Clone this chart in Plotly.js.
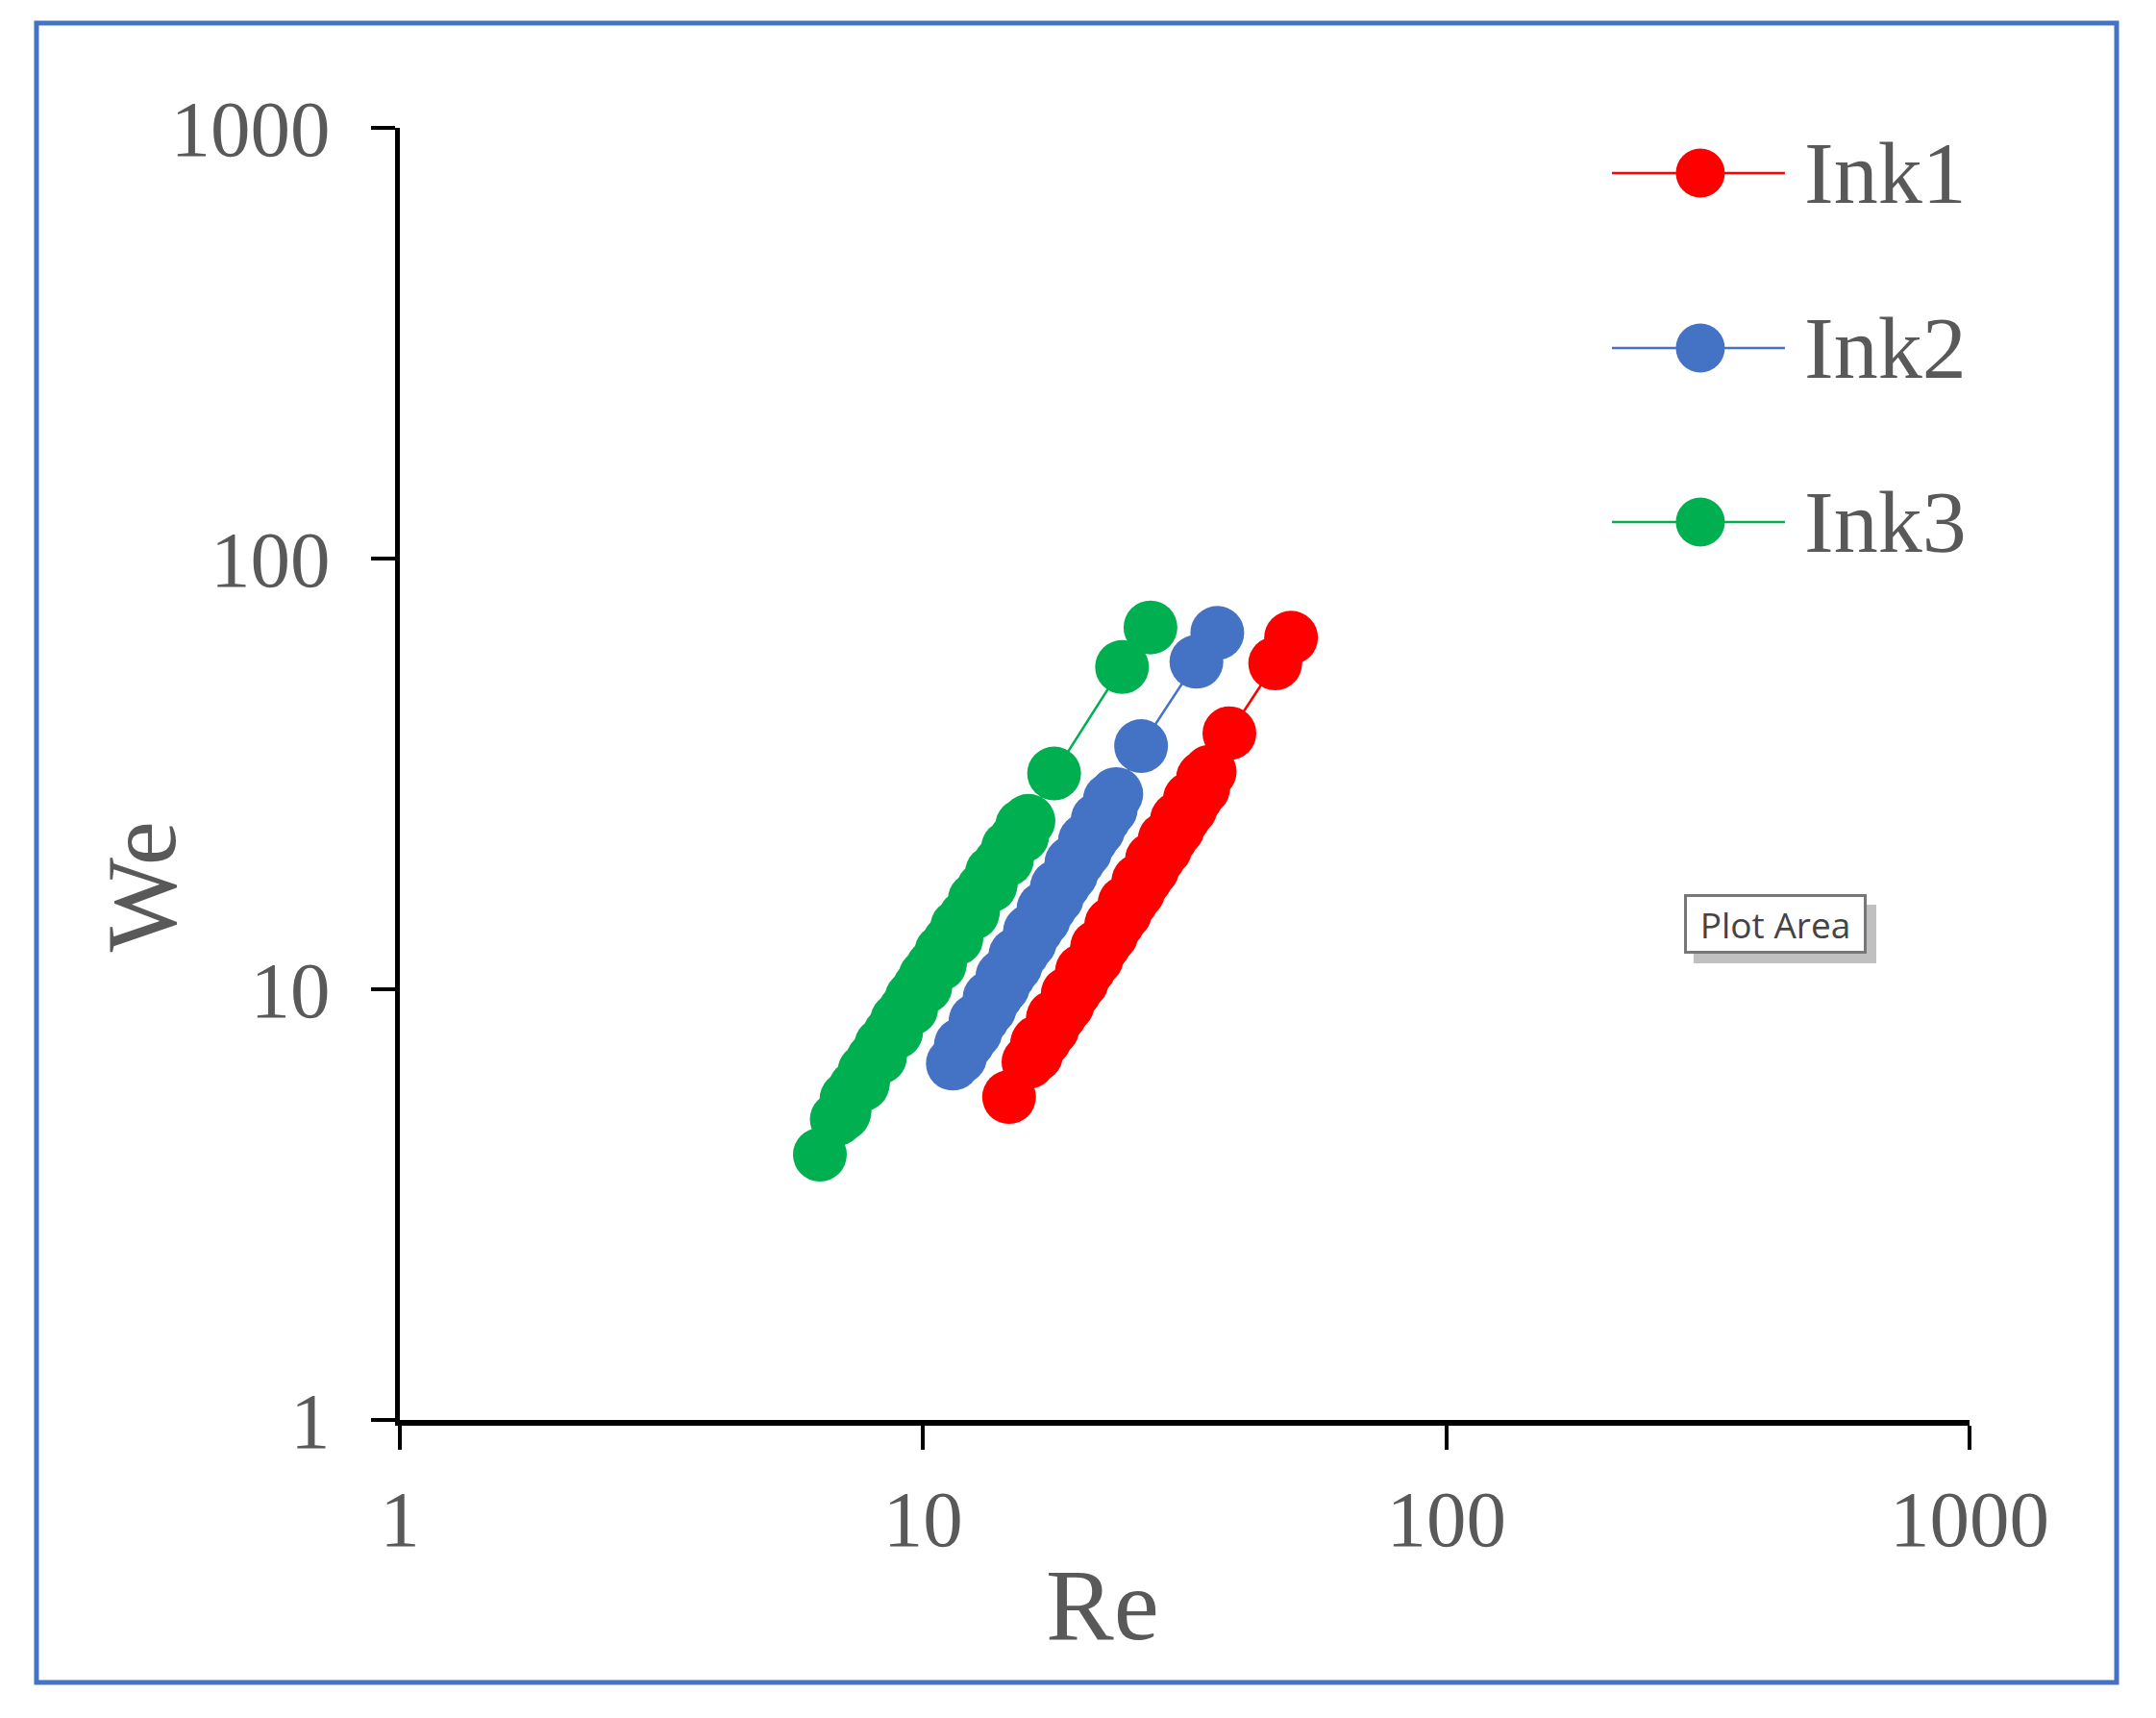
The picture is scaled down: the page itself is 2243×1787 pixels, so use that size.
<!DOCTYPE html>
<html>
<head>
<meta charset="utf-8">
<script src="https://cdn.plot.ly/plotly-3.0.1.min.js"></script>
<style>html,body{margin:0;padding:0;background:#fff;}#chart{width:2243px;height:1787px;}</style>
</head>
<body>
<div id="chart"></div>
<script>
// ---- data ----
var seriesNames = ["Ink1", "Ink2", "Ink3"];
var seriesColors = ["#FF0000", "#4472C4", "#00B050"];

var ink1Re = [14.6, 15.9, 16.44, 16.5, 16.55, 17.1, 17.66, 17.7, 17.73, 18.3, 18.88, 18.9, 18.91, 19.5, 20.10, 20.1, 20.14, 20.8, 21.47, 21.5, 21.52, 22.2, 22.89, 22.9, 22.90, 23.6, 24.31, 24.3, 24.28, 25.0, 25.78, 25.8, 25.81, 26.6, 27.41, 27.4, 27.38, 28.2, 29.03, 29.0, 28.96, 29.8, 30.65, 30.6, 30.58, 31.5, 32.43, 32.4, 32.36, 33.3, 34.31, 34.3, 34.28, 35.3, 38.5, 47.1, 50.5];
var ink1We = [5.62, 6.78, 7.03, 7.43, 7.54, 7.65, 8.08, 8.52, 8.62, 8.73, 9.19, 9.67, 9.78, 9.87, 10.38, 10.89, 11.05, 11.19, 11.79, 12.42, 12.56, 12.7, 13.35, 14.03, 14.17, 14.3, 15.01, 15.75, 15.87, 15.98, 16.82, 17.69, 17.87, 17.99, 18.94, 19.88, 20.04, 20.2, 21.18, 22.2, 22.34, 22.48, 23.53, 24.63, 24.84, 25.03, 26.26, 27.5, 27.7, 27.9, 29.29, 30.13, 30.99, 32.0, 39.3, 57.1, 65.5];

var ink2Re = [11.4, 11.77, 11.8, 11.82, 12.2, 12.59, 12.6, 12.61, 13.0, 13.40, 13.4, 13.40, 13.8, 14.21, 14.2, 14.18, 14.6, 15.02, 15.0, 15.02, 15.5, 15.99, 16.0, 16.01, 16.5, 17.00, 17.0, 16.99, 17.5, 18.02, 18.0, 18.03, 18.6, 19.18, 19.2, 19.21, 19.8, 20.40, 20.4, 20.39, 21.0, 21.62, 21.6, 21.57, 22.2, 22.84, 22.8, 22.75, 23.4, 26.1, 33.3, 36.5];
var ink2We = [6.72, 6.96, 7.34, 7.45, 7.55, 7.95, 8.38, 8.47, 8.57, 9.01, 9.47, 9.56, 9.66, 10.13, 10.64, 10.72, 10.8, 11.33, 11.86, 12.03, 12.17, 12.83, 13.5, 13.65, 13.8, 14.51, 15.24, 15.39, 15.52, 16.29, 17.08, 17.32, 17.53, 18.47, 19.44, 19.66, 19.86, 20.89, 20.97, 22.16, 22.34, 23.46, 24.6, 24.8, 24.97, 26.18, 27.4, 27.59, 28.4, 36.7, 57.6, 67.2];

var ink3Re = [6.35, 6.84, 7.05, 7.08, 7.14, 7.42, 7.66, 7.68, 7.73, 8.02, 8.27, 8.27, 8.32, 8.63, 8.88, 8.88, 8.92, 9.24, 9.49, 9.47, 9.51, 9.83, 10.10, 10.08, 10.10, 10.43, 10.76, 10.78, 10.84, 11.22, 11.57, 11.58, 11.62, 12.03, 12.43, 12.47, 12.56, 13.02, 13.45, 13.48, 13.54, 14.03, 14.46, 14.47, 14.53, 15.02, 15.47, 15.46, 15.46, 15.9, 17.8, 24.0, 27.2];
var ink3We = [4.13, 4.99, 5.14, 5.22, 5.57, 5.92, 6.01, 6.1, 6.47, 6.88, 6.95, 7.02, 7.44, 7.88, 7.95, 8.02, 8.49, 8.95, 9.01, 9.06, 9.56, 10.1, 10.13, 10.2, 10.72, 11.3, 11.42, 11.6, 12.25, 12.9, 13.1, 13.3, 13.99, 14.7, 15.01, 15.3, 16.19, 17.1, 17.41, 17.7, 18.68, 19.6, 19.98, 20.3, 21.33, 22.3, 22.68, 23.0, 23.99, 24.6, 31.7, 56.0, 69.2];

var tickValues = [1, 10, 100, 1000];
var tickLabels = ["1", "10", "100", "1000"];
var xTitle = "Re";
var yTitle = "We";
var tooltipText = "Plot Area";

// ---- chart ----
var serif = "Liberation Serif, Times New Roman, serif";
var gray = "#595959";
var xs = [ink1Re, ink2Re, ink3Re];
var ys = [ink1We, ink2We, ink3We];

var traces = seriesNames.map(function (n, i) {
  return {
    type: "scatter",
    mode: "lines+markers",
    name: n,
    x: xs[i],
    y: ys[i],
    line: {color: seriesColors[i], width: 2.5},
    marker: {color: seriesColors[i], size: 56, line: {width: 0}},
    hoverinfo: "x+y+name"
  };
});

var legendY = [0.9650, 0.8296, 0.6949];
var shapes = [
  // outer blue frame
  {type: "rect", xref: "paper", yref: "paper", x0: -0.2315, x1: 1.0937, y0: -0.2031, y1: 1.0811,
   line: {color: "#4472C4", width: 5}, fillcolor: "rgba(0,0,0,0)", layer: "below"},
  // tooltip shadow
  {type: "rect", xref: "paper", yref: "paper", x0: 0.8242, x1: 0.9406, y0: 0.3534, y1: 0.3988,
   line: {width: 0}, fillcolor: "rgba(150,150,150,0.6)", layer: "above"}
];
var annotations = [];
seriesNames.forEach(function (n, i) {
  shapes.push({type: "line", xref: "paper", yref: "paper", x0: 0.7722, x1: 0.8824, y0: legendY[i], y1: legendY[i],
    line: {color: seriesColors[i], width: 2.5}, layer: "above"});
  shapes.push({type: "circle", xref: "paper", yref: "paper", xsizemode: "pixel", ysizemode: "pixel",
    xanchor: 0.8285, yanchor: legendY[i], x0: -25.5, x1: 25.5, y0: -25.5, y1: 25.5,
    line: {width: 0}, fillcolor: seriesColors[i], layer: "above"});
  annotations.push({xref: "paper", yref: "paper", x: 0.8935, y: legendY[i], xanchor: "left", yanchor: "middle",
    text: n, showarrow: false, font: {family: serif, size: 92, color: gray}});
});
annotations.push({xref: "paper", yref: "paper", x: 0.4476, y: -0.1429, xanchor: "center", yanchor: "middle",
  text: xTitle, showarrow: false, font: {family: serif, size: 106, color: gray}});
annotations.push({xref: "paper", yref: "paper", x: -0.1653, y: 0.4129, xanchor: "center", yanchor: "middle",
  text: yTitle, textangle: -90, showarrow: false, font: {family: serif, size: 104, color: gray}});
annotations.push({xref: "paper", yref: "paper", x: 0.8763, y: 0.3836, xanchor: "center", yanchor: "middle",
  text: tooltipText, showarrow: false, font: {family: "Open Sans, Liberation Sans, sans-serif", size: 37, color: "#444"},
  bgcolor: "#ffffff", bordercolor: "#777777", borderwidth: 3, borderpad: 6, width: 172, height: 44});

var axisCommon = {
  type: "log",
  range: [0, 3],
  tickmode: "array",
  tickvals: tickValues,
  ticktext: tickLabels,
  ticks: "outside",
  ticklen: 25,
  tickwidth: 4,
  tickcolor: "#000",
  showline: true,
  linecolor: "#000",
  showgrid: false,
  zeroline: false,
  tickfont: {family: serif, size: 83, color: gray},
  fixedrange: true
};

var layout = {
  width: 2243,
  height: 1787,
  margin: {l: 416, r: 194, t: 133, b: 310, pad: 0},
  paper_bgcolor: "#ffffff",
  plot_bgcolor: "#ffffff",
  showlegend: false,
  xaxis: Object.assign({}, axisCommon, {linewidth: 6, ticklabelstandoff: 0}),
  yaxis: Object.assign({}, axisCommon, {linewidth: 5, ticklabelstandoff: 26}),
  shapes: shapes,
  annotations: annotations
};

Plotly.newPlot("chart", traces, layout, {displayModeBar: false, staticPlot: true});
</script>
</body>
</html>
